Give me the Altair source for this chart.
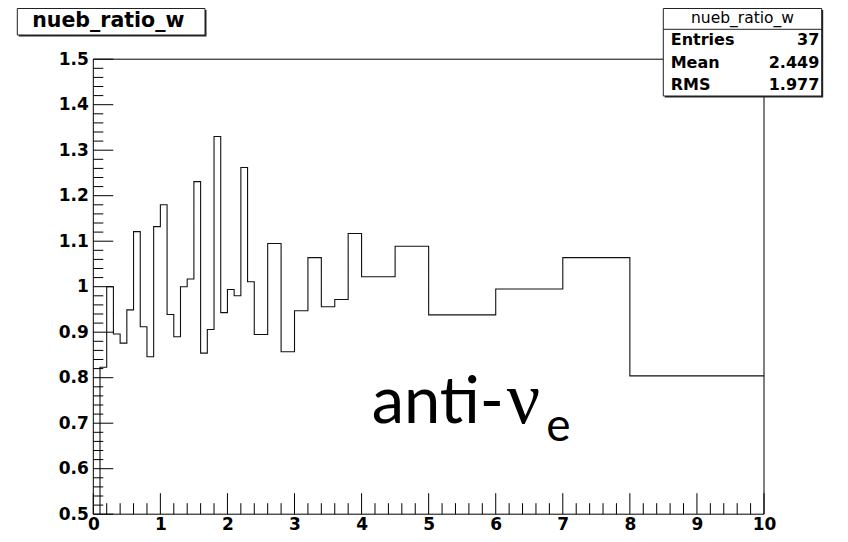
import altair as alt
import pandas as pd

# ---------------- data ----------------
bin_edges = [0.0, 0.1, 0.2, 0.3, 0.4, 0.5, 0.6, 0.7, 0.8, 0.9, 1.0, 1.1, 1.2, 1.3,
             1.4, 1.5, 1.6, 1.7, 1.8, 1.9, 2.0, 2.1, 2.2, 2.3, 2.4, 2.6, 2.8, 3.0,
             3.2, 3.4, 3.6, 3.8, 4.0, 4.5, 5.0, 6.0, 7.0, 8.0, 10.0]
bin_content = [0.0, 0.823, 1.000, 0.896, 0.876, 0.949, 1.121, 0.912, 0.846, 1.132,
               1.180, 0.939, 0.890, 1.000, 1.017, 1.231, 0.854, 0.906, 1.330, 0.943,
               0.994, 0.980, 1.262, 1.011, 0.895, 1.095, 0.857, 0.947, 1.064, 0.956,
               0.972, 1.117, 1.022, 1.089, 0.938, 0.995, 1.064, 0.804]

x_major_ticks = [0, 1, 2, 3, 4, 5, 6, 7, 8, 9, 10]
y_major_ticks = [0.5, 0.6, 0.7, 0.8, 0.9, 1.0, 1.1, 1.2, 1.3, 1.4, 1.5]
minor_divisions = 5

hist_title = "nueb_ratio_w"
stats_title = "nueb_ratio_w"
stats_labels = ["Entries", "Mean", "RMS"]
stats_values = ["37", "2.449", "1.977"]
note_main = "anti-"
note_greek = "\u03bd"
note_sub = "e"

# ---------------- layout ----------------
W, H = 670.7, 455
PAD_L, PAD_T = 85.3, 51.2
ROOT_FONT = "DejaVu Sans"

xs = alt.Scale(domain=[0, 10], nice=False, zero=False)
ys = alt.Scale(domain=[0.5, 1.5], nice=False, zero=False)

rows = []
for i, v in enumerate(bin_content):
    rows.append({"x": bin_edges[i], "y": v, "o": 2 * i})
    rows.append({"x": bin_edges[i + 1], "y": v, "o": 2 * i + 1})
hist_df = pd.DataFrame(rows)


def minor(ticks):
    out = []
    for a, b in zip(ticks[:-1], ticks[1:]):
        for k in range(1, minor_divisions):
            out.append(a + (b - a) * k / minor_divisions)
    return out


one = pd.DataFrame({"a": [0]})

label_kw = dict(ticks=False, domain=False, grid=False, title=None,
                labelFont=ROOT_FONT, labelFontSize=17, labelFontWeight="bold",
                labelColor="black", labelFlush=False, labelOverlap=False)
x_axis = alt.Axis(values=x_major_ticks, labelPadding=15, labelBaseline="alphabetic", **label_kw)
y_axis = alt.Axis(values=y_major_ticks, format=".1~f", labelPadding=5, **label_kw)

line = alt.Chart(hist_df).mark_line(color="#111111", strokeWidth=1.1, clip=True).encode(
    x=alt.X("x:Q", scale=xs, axis=x_axis),
    y=alt.Y("y:Q", scale=ys, axis=y_axis),
    order="o:Q",
)

frame = alt.Chart(one).mark_rect(fill=None, stroke="black", strokeWidth=1).encode(
    x=alt.value(0), x2=alt.value(W), y=alt.value(0), y2=alt.value(H))

y_maj = alt.Chart(pd.DataFrame({"y": y_major_ticks})).mark_rule(color="black", strokeWidth=1).encode(
    y=alt.Y("y:Q", scale=ys, axis=y_axis), x=alt.value(0), x2=alt.value(20))
y_min = alt.Chart(pd.DataFrame({"y": minor(y_major_ticks)})).mark_rule(color="black", strokeWidth=1).encode(
    y=alt.Y("y:Q", scale=ys, axis=y_axis), x=alt.value(0), x2=alt.value(10))
x_maj = alt.Chart(pd.DataFrame({"x": x_major_ticks})).mark_rule(color="black", strokeWidth=1).encode(
    x=alt.X("x:Q", scale=xs, axis=x_axis), y=alt.value(H), y2=alt.value(H - 21))
x_min = alt.Chart(pd.DataFrame({"x": minor(x_major_ticks)})).mark_rule(color="black", strokeWidth=1).encode(
    x=alt.X("x:Q", scale=xs, axis=x_axis), y=alt.value(H), y2=alt.value(H - 11))


def box(x1, y1, x2, y2):
    shadow = alt.Chart(one).mark_rect(fill="#222222").encode(
        x=alt.value(x1 + 1.5), x2=alt.value(x2 + 1.5), y=alt.value(y1 + 1.5), y2=alt.value(y2 + 1.5))
    body = alt.Chart(one).mark_rect(fill="white", stroke="#222222", strokeWidth=1).encode(
        x=alt.value(x1), x2=alt.value(x2), y=alt.value(y1), y2=alt.value(y2))
    return [shadow, body]


def text(s, x, y, size, align="left", font=ROOT_FONT, weight="bold"):
    return alt.Chart(one).mark_text(align=align, baseline="alphabetic", font=font,
                                    fontSize=size, fontWeight=weight, color="black").encode(
        x=alt.value(x), y=alt.value(y), text=alt.value(s))


layers = [line, frame, y_maj, y_min, x_maj, x_min]

# title box (top left)
layers += box(-76, -50.7, 111.7, -24.2)
layers.append(text(hist_title, 15, -32.5, 20.5, align="center"))

# stats box (top right)
sx1, sx2, sy1, sy2 = 570, 728.4, -50.7, 36.8
layers += box(sx1, sy1, sx2, sy2)
layers.append(alt.Chart(one).mark_rule(color="#222222", strokeWidth=1).encode(
    x=alt.value(sx1), x2=alt.value(sx2), y=alt.value(-29.9)))
layers.append(text(stats_title, (sx1 + sx2) / 2, -36.2, 15.5, align="center", weight="normal"))
for lab, val, yy in zip(stats_labels, stats_values, [-14.2, 9.1, 30.8]):
    layers.append(text(lab, 577.4, yy, 16))
    layers.append(text(val, 726.0, yy, 16, align="right"))

# annotation
layers.append(text(note_main, 410.7, 364, 65, align="right", font="Lato", weight="normal"))
layers.append(text(note_greek, 413.5, 364, 74, font="Liberation Serif", weight="normal"))
layers.append(text(note_sub, 453.0, 382, 46, font="Lato", weight="normal"))

chart = alt.layer(*layers).properties(
    width=W, height=H,
    padding={"left": PAD_L, "top": PAD_T, "right": 832 - PAD_L - W, "bottom": 526 - PAD_T - H},
    autosize=alt.AutoSizeParams(type="none"),
).configure_view(stroke=None)

chart.save("out.html", embed_options={"renderer": "svg", "actions": False})
